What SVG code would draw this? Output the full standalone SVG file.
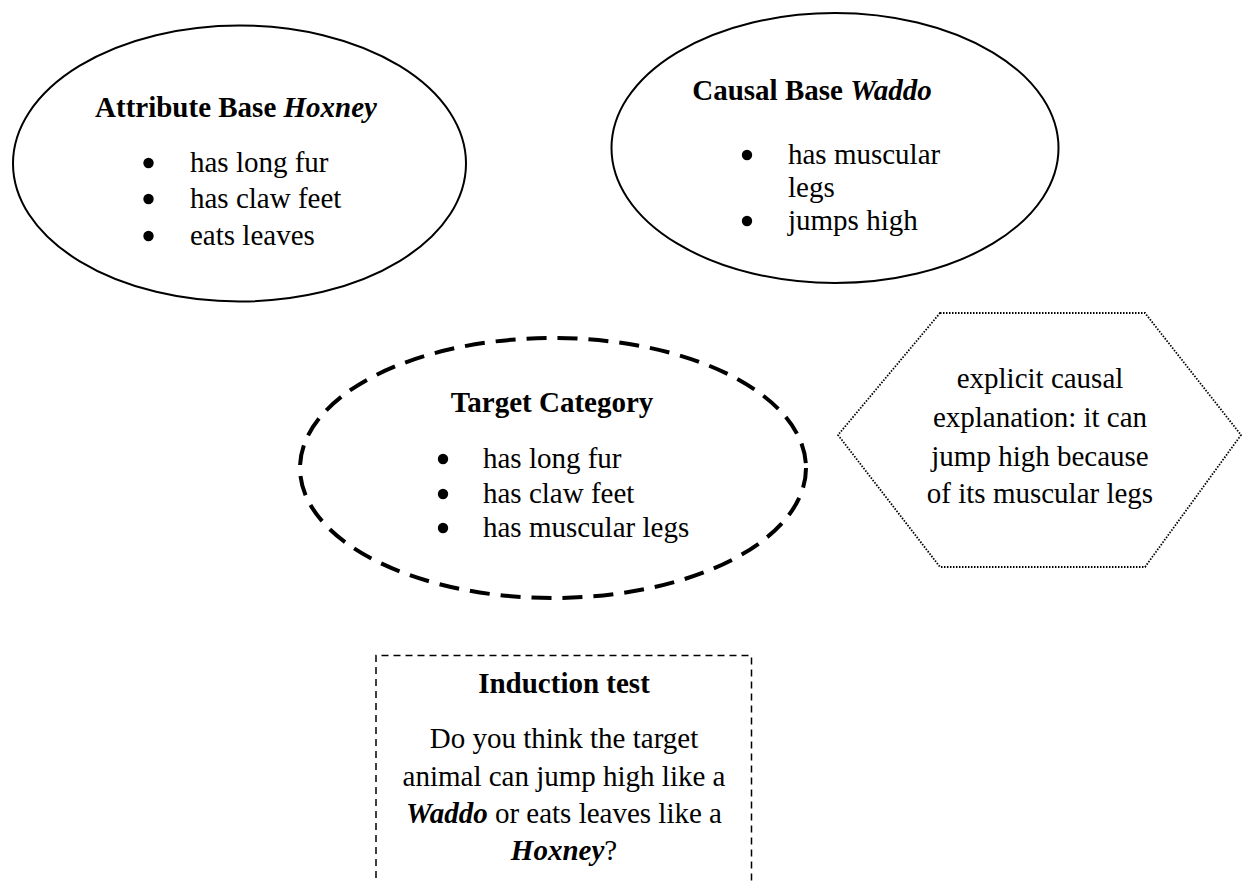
<svg xmlns="http://www.w3.org/2000/svg" width="1242" height="881" viewBox="0 0 1242 881">
<style>
text{font-family:"Liberation Serif","Times New Roman",serif;font-size:29px;fill:#000}
.b{font-weight:bold}
.i{font-style:italic}
.c{text-anchor:middle}
.bu{fill:#000}
.solid{fill:#fff;stroke:#000;stroke-width:2}
.dash{fill:#fff;stroke:#000;stroke-width:4;stroke-dasharray:20 11}
.dot{fill:#fff;stroke:#000;stroke-width:1.8;stroke-dasharray:1.5 1.5}
.box{fill:none;stroke:#000;stroke-width:1.5;stroke-dasharray:7 5}
</style>
<rect width="1242" height="881" fill="#fff"/>
<g id="connectors"></g>
<g id="attribute-base">
<ellipse class="solid" cx="239.5" cy="163.5" rx="226.5" ry="138"/>
<text class="c" x="236" y="117"><tspan class="b">Attribute Base </tspan><tspan class="b i">Hoxney</tspan></text>
<circle class="bu" cx="148.5" cy="163" r="5.2"/><text x="190" y="172">has long fur</text>
<circle class="bu" cx="148.5" cy="199" r="5.2"/><text x="190" y="208">has claw feet</text>
<circle class="bu" cx="148.5" cy="236" r="5.2"/><text x="190" y="245">eats leaves</text>
</g>
<g id="causal-base">
<ellipse class="solid" cx="835" cy="148" rx="223.5" ry="135"/>
<text class="c" x="812" y="100"><tspan class="b">Causal Base </tspan><tspan class="b i">Waddo</tspan></text>
<circle class="bu" cx="747" cy="155" r="5.2"/><text x="788" y="164">has muscular</text>
<text x="788" y="197">legs</text>
<circle class="bu" cx="747" cy="221" r="5.2"/><text x="788" y="230">jumps high</text>
</g>
<g id="target-category">
<ellipse class="dash" cx="553" cy="468" rx="253" ry="130"/>
<text class="c b" x="552" y="412">Target Category</text>
<circle class="bu" cx="443" cy="459" r="5.2"/><text x="483" y="468">has long fur</text>
<circle class="bu" cx="443" cy="494" r="5.2"/><text x="483" y="503">has claw feet</text>
<circle class="bu" cx="443" cy="528" r="5.2"/><text x="483" y="537">has muscular legs</text>
</g>
<g id="explanation">
<polygon class="dot" points="940,313 1145,313 1241,435 1145,567 940,567 838,435"/>
<text class="c" x="1040" y="388">explicit causal</text>
<text class="c" x="1040" y="427">explanation: it can</text>
<text class="c" x="1040" y="466">jump high because</text>
<text class="c" x="1040" y="503">of its muscular legs</text>
</g>
<g id="induction-test">
<path class="box" d="M376,890 V655.5 H751.5 V890"/>
<text class="c b" x="564" y="693">Induction test</text>
<text class="c" x="564" y="748">Do you think the target</text>
<text class="c" x="564" y="786">animal can jump high like a</text>
<text class="c" x="564" y="823"><tspan class="b i">Waddo</tspan> or eats leaves like a</text>
<text class="c" x="564" y="860"><tspan class="b i">Hoxney</tspan>?</text>
</g>
</svg>
